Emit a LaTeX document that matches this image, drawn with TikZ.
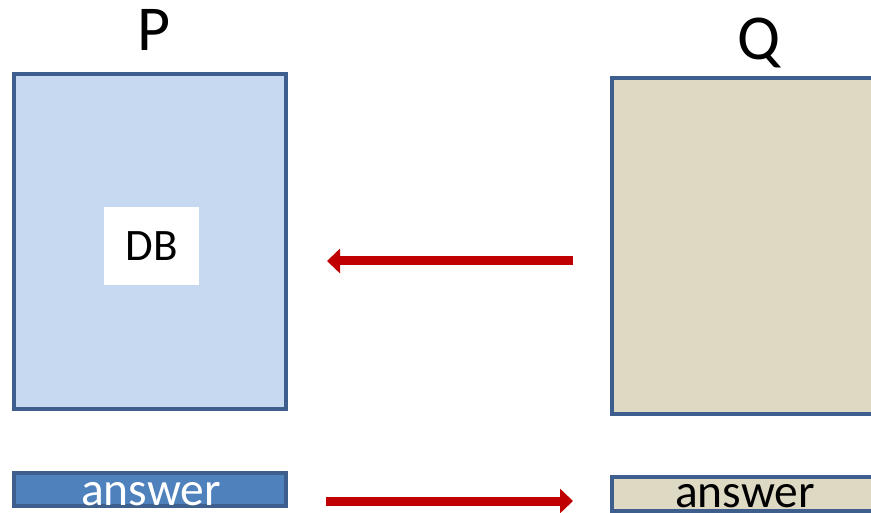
\documentclass[tikz,border=0pt]{standalone}
\usepackage{fontspec}
\setmainfont{Carlito}
\usetikzlibrary{arrows.meta,positioning}
\definecolor{boxborder}{HTML}{3E5F8D}
\definecolor{pfill}{HTML}{C6D9F1}
\definecolor{qfill}{HTML}{DDD9C3}
\definecolor{ansblue}{HTML}{4F81BD}
\definecolor{arrowred}{HTML}{C00000}

\begin{document}
\begin{tikzpicture}[x=1pt,y=-1pt]
\tikzstyle{box}=[draw=boxborder,line width=4.5pt,rectangle,inner sep=0pt]
\tikzstyle{bigtext}=[font=\fontsize{64}{70}\selectfont,anchor=base,inner sep=0pt]
\tikzstyle{answertext}=[font=\fontsize{47.5}{52}\selectfont,anchor=base,inner sep=0pt]
\tikzstyle{redarrow}=[draw=arrowred,line width=9pt,-{Triangle[length=13pt,width=24pt]}]

 \useasboundingbox (0,0) rectangle (871,513);

 % the two parties
 \node[box,fill=pfill,minimum width=272pt,minimum height=335pt] (P) at (150,241.5) {};
 \node[box,fill=qfill,minimum width=268pt,minimum height=336pt] (Q) at (746,246) {};
 \node[bigtext] (Plabel) at (154,51) {P};
 \node[bigtext] (Qlabel) at (759,60) {Q};

 \node[fill=white,minimum width=95pt,minimum height=78pt,inner sep=0pt] (DB) at (151.5,246) {};
 \node[font=\fontsize{45}{50}\selectfont,anchor=base,inner sep=0pt] (DBtext) at (151.5,260.5) {DB};

 % answers
 \node[box,fill=ansblue,minimum width=272pt,minimum height=33pt] (Pans) at (150,489.5) {};
 \node[box,fill=qfill,minimum width=268pt,minimum height=34pt] (Qans) at (746,494) {};
 \node[answertext,text=white] (Panstext) at (151,505) {answer};
 \node[answertext] (Qanstext) at (745,507) {answer};

 % messages
 \coordinate (m1from) at (573,261);
 \coordinate (m1to) at (327,261);
 \coordinate (m2from) at (326,501);
 \coordinate (m2to) at (573,501);
 \draw[redarrow] (m1from) -- (m1to);
 \draw[redarrow] (m2from) -- (m2to);
\end{tikzpicture}
\end{document}
